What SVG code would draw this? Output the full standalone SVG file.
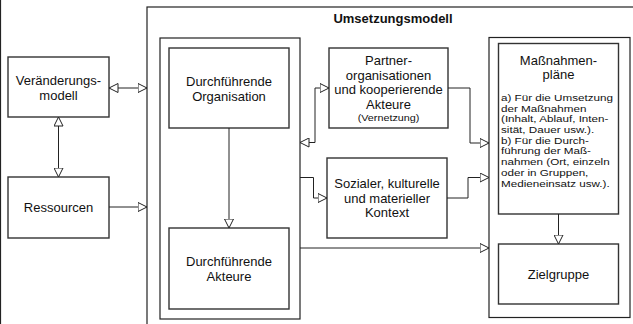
<svg xmlns="http://www.w3.org/2000/svg" width="633" height="324" viewBox="0 0 633 324">
<style>
  .frame { fill: none; stroke: #222; stroke-width: 1.2; }
  .box { fill: #fff; stroke: #333; stroke-width: 1.4; }
  .conn { fill: none; stroke: #222; stroke-width: 1; }
  text { font-family: "Liberation Sans", Arial, sans-serif; fill: #111; }
  .t { font-size: 13px; text-anchor: middle; }
  .s { font-size: 9.55px; }
  .sc { font-size: 9.8px; text-anchor: middle; }
  .title { font-size: 13px; font-weight: bold; text-anchor: middle; }
</style>
<defs>
  <marker id="tri" viewBox="0 0 10 10" refX="9.5" refY="5" markerWidth="10" markerHeight="10" markerUnits="userSpaceOnUse" orient="auto-start-reverse">
    <path d="M0.5,0.5 L9.5,5 L0.5,9.5 Z" fill="#fff" stroke="#222" stroke-width="1"/>
  </marker>
</defs>
<rect width="633" height="324" fill="#fff"/>
<line x1="0.5" y1="0" x2="0.5" y2="324" class="frame"/>

<g id="umsetzungsmodell">
  <rect x="147" y="7" width="520" height="340" class="frame"/>
  <text x="393" y="23" class="title">Umsetzungsmodell</text>
</g>

<g id="organisation-gruppe">
  <rect x="160" y="38" width="140" height="281" class="frame"/>
</g>

<g id="massnahmen-gruppe">
  <rect x="489" y="37.5" width="141" height="280" class="frame"/>
</g>

<g id="veraenderungsmodell">
  <rect x="8" y="57" width="101" height="60" class="box"/>
  <text x="58.5" y="85" class="t">Veränderungs-</text>
  <text x="58.5" y="100" class="t">modell</text>
</g>

<g id="ressourcen">
  <rect x="8" y="177" width="101" height="61" class="box"/>
  <text x="58.5" y="211.5" class="t">Ressourcen</text>
</g>

<g id="durchfuehrende-organisation">
  <rect x="169" y="48" width="120" height="80" class="box"/>
  <text x="229" y="86" class="t">Durchführende</text>
  <text x="229" y="100.7" class="t">Organisation</text>
</g>

<g id="durchfuehrende-akteure">
  <rect x="169" y="228" width="120" height="81" class="box"/>
  <text x="229" y="266" class="t">Durchführende</text>
  <text x="229" y="280.7" class="t">Akteure</text>
</g>

<g id="partner">
  <rect x="329" y="48" width="119" height="80" class="box"/>
  <text x="388.5" y="65" class="t">Partner-</text>
  <text x="388.5" y="79.6" class="t">organisationen</text>
  <text x="388.5" y="94.2" class="t">und kooperierende</text>
  <text x="388.5" y="108.8" class="t">Akteure</text>
  <text transform="translate(388.5,120.6) scale(1.1,1)" class="sc">(Vernetzung)</text>
</g>

<g id="kontext">
  <rect x="327" y="158" width="120" height="80" class="box"/>
  <text x="387" y="188.3" class="t">Sozialer, kulturelle</text>
  <text x="387" y="202.8" class="t">und materieller</text>
  <text x="387" y="217.3" class="t">Kontext</text>
</g>

<g id="massnahmenplaene">
  <rect x="498.5" y="43.5" width="120" height="170.5" class="box"/>
  <text x="558.5" y="64.5" class="t">Maßnahmen-</text>
  <text x="558.5" y="79" class="t">pläne</text>
  <g transform="translate(501,0) scale(1.22,1)">
    <text x="0" y="101" class="s">a) Für die Umsetzung</text>
    <text x="0" y="111.7" class="s">der Maßnahmen</text>
    <text x="0" y="122.4" class="s">(Inhalt, Ablauf, Inten-</text>
    <text x="0" y="133.1" class="s">sität, Dauer usw.).</text>
    <text x="0" y="143.8" class="s">b) Für die Durch-</text>
    <text x="0" y="154.5" class="s">führung der Maß-</text>
    <text x="0" y="165.2" class="s">nahmen (Ort, einzeln</text>
    <text x="0" y="175.9" class="s">oder in Gruppen,</text>
    <text x="0" y="186.6" class="s">Medieneinsatz usw.).</text>
  </g>
</g>

<g id="zielgruppe">
  <rect x="498.5" y="244" width="120" height="60" class="box"/>
  <text x="558.5" y="279.3" class="t">Zielgruppe</text>
</g>

<g id="connectors">
  <path d="M109,88 H147" class="conn" marker-start="url(#tri)" marker-end="url(#tri)"/>
  <path d="M58.5,117 V177" class="conn" marker-start="url(#tri)" marker-end="url(#tri)"/>
  <path d="M109,207 H147" class="conn" marker-end="url(#tri)"/>
  <path d="M229,128 V228" class="conn" marker-end="url(#tri)"/>
  <path d="M300,142.5 H315 V88 H329" class="conn" marker-start="url(#tri)" marker-end="url(#tri)"/>
  <path d="M448,88 H470 V143 H489" class="conn" marker-end="url(#tri)"/>
  <path d="M300,177.5 H313.5 V198 H327" class="conn" marker-end="url(#tri)"/>
  <path d="M447,198 H468 V177.5 H489" class="conn" marker-end="url(#tri)"/>
  <path d="M300,248 H489" class="conn" marker-end="url(#tri)"/>
  <path d="M558.5,214 V244" class="conn" marker-end="url(#tri)"/>
</g>
</svg>
